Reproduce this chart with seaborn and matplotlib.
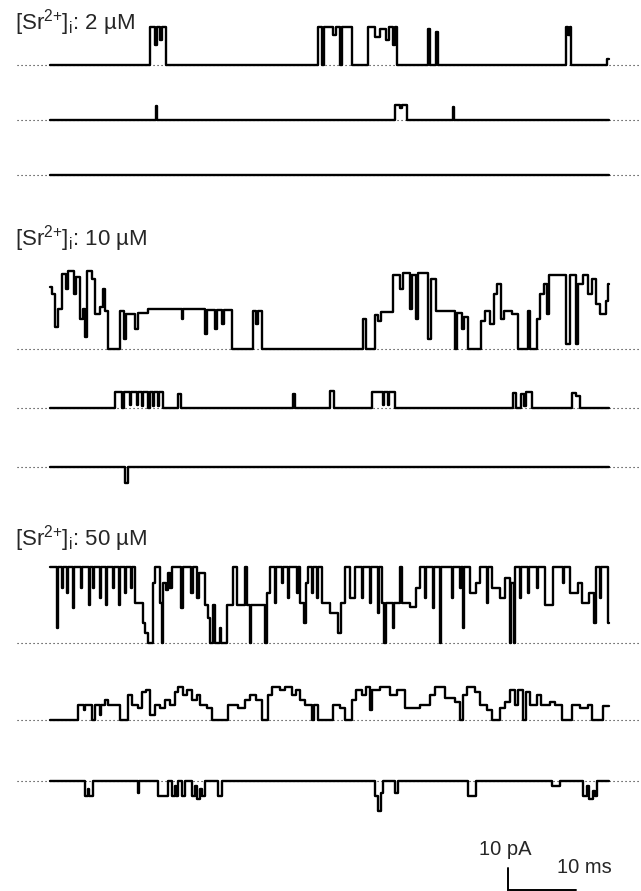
import numpy as np
import pandas as pd
import matplotlib
matplotlib.use("Agg")
import matplotlib.pyplot as plt
import seaborn as sns

# --- single-channel traces: step breakpoints (ms) and current (pA) ---
# 2 uM Sr2+
t_2a = [0, 14.7, 15.4, 15.7, 16.2, 16.5, 17.1, 39.4, 40.0, 40.3, 41.6, 42.1, 42.6, 42.9,
        44.4, 46.8, 47.8, 48.5, 49.4, 49.9, 50.4, 50.7, 51.0, 55.6, 55.9, 56.8, 57.1,
        75.9, 76.2, 76.5, 76.6, 81.9, 82.2]
i_2a = [0, 17.3, 9.1, 17.3, 11.4, 17.3, 0, 17.3, 0, 17.3, 13.6, 17.3, 0, 17.3,
        0, 17.3, 12.7, 16.4, 11.4, 17.3, 9.1, 17.3, 0, 16.4, 0, 15.0, 0,
        17.3, 13.6, 17.3, 0, 2.7, 2.7]
t_2b = [0, 15.6, 15.7, 50.7, 51.5, 51.8, 52.5, 59.3, 59.4, 82.2]
i_2b = [0, 6.4, 0, 6.8, 5.5, 6.8, 0, 5.9, 0, 0]
t_2c = [0, 82.2]
i_2c = [0, 0]

# 10 uM Sr2+
t_10a = [0, 0.3, 0.7, 1.2, 1.8, 2.4, 2.6, 3.5, 3.8, 4.4, 4.9, 5.1, 5.4, 6.2, 6.6, 7.4,
         7.8, 8.1, 8.5, 10.3, 10.9, 11.2, 12.5, 12.9, 14.4, 19.4, 19.6, 22.8, 23.1,
         24.3, 24.6, 25.3, 25.6, 26.8, 29.9, 30.3, 30.6, 31.2, 46.0, 46.5, 47.8, 48.2,
         48.7, 50.4, 51.5, 51.9, 52.9, 53.2, 53.8, 54.1, 55.6, 56.0, 56.8, 59.6, 59.8,
         60.6, 60.9, 61.5, 63.4, 64.0, 64.7, 65.3, 65.7, 66.3, 66.8, 68.0, 68.8, 70.3,
         70.6, 71.6, 72.1, 72.6, 73.1, 73.4, 75.9, 76.5, 77.4, 77.6, 78.4, 79.1, 79.7,
         80.3, 80.9, 81.8, 82.1, 82.2]
i_10a = [28.2, 25.0, 10.0, 18.2, 34.1, 27.3, 35.5, 25.0, 32.7, 13.6, 18.2, 5.5, 35.5, 31.8, 15.9, 19.1,
         27.3, 17.3, 0, 17.3, 4.5, 15.9, 9.1, 16.4, 18.2, 13.6, 18.2, 6.8, 17.7,
         9.1, 17.7, 11.4, 17.7, 0, 17.3, 11.4, 17.3, 0, 13.6, 0, 15.5, 12.7,
         16.8, 33.6, 27.3, 34.5, 18.2, 33.6, 13.6, 34.5, 4.5, 31.8, 17.3, 0, 16.4,
         9.1, 14.5, 0, 12.7, 17.3, 11.4, 25.0, 29.5, 13.6, 17.3, 15.9, 0, 17.3,
         0, 13.6, 25.0, 29.5, 15.9, 33.6, 2.3, 33.6, 2.3, 29.5, 33.6, 25.0, 31.8,
         20.5, 15.9, 21.8, 29.5, 29.5]
t_10b = [0, 9.6, 10.6, 10.9, 11.8, 11.9, 12.8, 12.9, 13.5, 13.7, 14.4, 14.7, 15.1, 15.3,
         15.9, 16.0, 16.6, 18.8, 19.3, 35.7, 36.0, 41.2, 41.8, 47.4, 49.0, 49.1, 49.7,
         49.9, 50.7, 68.1, 68.5, 69.3, 69.7, 70.0, 70.9, 76.8, 77.4, 77.9, 82.2]
i_10b = [0, 7.3, 0, 7.3, 1.4, 7.3, 1.4, 7.3, 0.9, 7.3, 0, 7.3, 0.9, 7.3,
         0.9, 7.3, 0, 6.4, 0, 6.4, 0, 7.7, 0, 7.3, 1.4, 7.3, 1.4,
         7.3, 0, 6.8, 0, 6.4, 0.9, 7.3, 0, 6.8, 5.5, 0, 0]
t_10c = [0, 11.0, 11.5, 82.2]
i_10c = [0, -7.3, 0, 0]

# 50 uM Sr2+
t_50a = [0, 1.0, 1.2, 1.8, 1.9, 2.5, 2.6, 3.4, 3.5, 4.6, 4.7, 5.7, 5.9, 6.3, 6.5, 7.4,
         7.5, 8.2, 8.4, 9.3, 9.4, 10.1, 10.3, 11.0, 11.2, 11.9, 12.1, 12.5, 13.7, 14.0,
         14.4, 15.1, 15.4, 16.2, 16.5, 16.6, 17.1, 17.4, 17.6, 17.9, 19.3, 19.6, 20.7,
         21.0, 21.6, 21.9, 22.8, 23.2, 23.5, 24.0, 24.3, 25.0, 25.1, 26.0, 26.9, 27.5,
         28.7, 29.0, 29.4, 29.6, 31.6, 31.9, 32.4, 33.1, 33.2, 34.1, 34.3, 35.0, 35.1,
         36.3, 36.5, 36.8, 37.4, 37.6, 37.9, 38.5, 38.7, 39.3, 39.4, 40.0, 41.2, 42.4,
         42.8, 43.4, 44.1, 44.9, 45.9, 46.0, 47.1, 47.2, 48.2, 48.4, 48.8, 49.1, 49.4,
         50.4, 50.6, 51.5, 51.8, 52.9, 53.8, 54.4, 55.1, 55.3, 56.3, 56.5, 57.4, 57.5,
         59.1, 59.3, 60.3, 60.4, 60.7, 60.9, 61.8, 62.6, 63.2, 64.3, 64.4, 65.0, 66.2,
         66.9, 67.6, 67.8, 68.2, 68.4, 69.1, 69.3, 70.3, 70.4, 71.6, 71.8, 72.8, 73.9,
         75.4, 75.6, 76.5, 77.6, 78.2, 79.3, 80.0, 80.3, 80.9, 81.0, 82.1, 82.2]
i_50a = [34.5, 6.8, 34.5, 25.0, 34.5, 22.7, 34.5, 15.9, 34.5, 25.0, 34.5, 17.3, 34.5, 25.0, 34.5, 20.5,
         34.5, 17.3, 34.5, 25.0, 34.5, 17.3, 34.5, 22.7, 34.5, 25.0, 34.5, 18.2, 9.1, 4.5,
         0, 27.3, 34.5, 18.2, 0, 27.3, 24.0, 31.8, 25.0, 34.5, 15.9, 34.5, 22.7,
         34.5, 20.5, 31.8, 17.3, 11.4, 0, 17.3, 0, 6.8, 0, 17.3, 34.5, 17.3,
         34.5, 17.3, 0, 17.3, 0, 22.7, 34.5, 18.2, 34.5, 27.3, 34.5, 20.5, 34.5,
         22.7, 34.5, 18.2, 9.1, 27.3, 34.5, 22.7, 34.5, 20.5, 34.5, 18.2, 13.6, 4.5,
         18.2, 34.5, 20.5, 34.5, 20.5, 34.5, 18.2, 34.5, 13.6, 34.5, 18.2, 0, 18.2,
         6.8, 18.2, 34.5, 18.2, 16.4, 25.0, 34.5, 20.5, 34.5, 15.9, 34.5, 0, 34.5,
         20.5, 34.5, 25.0, 34.5, 6.8, 34.5, 22.7, 27.3, 34.5, 18.2, 34.5, 25.0, 20.5,
         29.5, 0, 27.3, 0, 34.5, 20.5, 34.5, 22.7, 34.5, 25.0, 34.5, 17.3, 34.5,
         27.3, 34.5, 22.7, 27.3, 18.2, 22.7, 9.1, 34.5, 20.5, 34.5, 9.1, 9.1]
t_50b = [0, 4.1, 5.0, 5.1, 6.2, 6.6, 7.4, 7.5, 8.1, 8.5, 10.3, 11.5, 12.1, 12.9, 13.5, 14.1,
         14.7, 15.4, 16.2, 16.9, 17.6, 18.4, 18.8, 19.6, 20.1, 20.9, 21.6, 22.1, 23.1,
         23.8, 26.2, 27.6, 28.7, 29.4, 30.3, 31.2, 32.1, 32.6, 33.8, 34.6, 35.6, 36.2,
         36.8, 37.5, 38.5, 38.8, 39.4, 41.6, 42.6, 43.4, 44.4, 45.0, 45.9, 46.5, 47.1,
         47.4, 48.5, 50.0, 51.0, 52.2, 54.4, 55.9, 56.6, 58.1, 59.6, 60.3, 60.7, 61.3,
         62.5, 63.2, 64.3, 65.0, 66.2, 66.9, 67.6, 68.4, 68.8, 69.6, 70.0, 70.6, 71.6,
         72.2, 73.5, 74.3, 75.3, 76.8, 77.9, 79.1, 79.7, 81.3, 82.2]
i_50b = [0, 6.8, 4.5, 6.8, 0, 6.8, 2.3, 6.8, 9.1, 6.8, 0, 11.4, 6.8, 5.5, 12.7, 13.6,
         2.3, 6.8, 5.5, 9.1, 6.8, 12.7, 15.0, 11.4, 13.6, 9.1, 11.4, 6.8, 5.5,
         0, 6.8, 5.5, 9.1, 11.4, 9.1, 0, 11.4, 15.0, 13.6, 15.0, 11.4, 13.6,
         9.1, 6.8, 0, 6.8, 0, 6.8, 5.5, 0, 9.1, 13.6, 11.4, 15.0, 4.5,
         13.6, 15.0, 11.4, 13.6, 5.5, 6.8, 11.4, 15.0, 10.0, 8.2, 0, 11.4, 15.0,
         12.7, 6.8, 4.5, 0, 5.5, 8.2, 13.6, 6.8, 13.6, 0, 12.7, 6.8, 11.4,
         6.8, 8.2, 6.8, 0, 6.8, 5.5, 6.8, 0, 6.4, 6.4]
t_50c = [0, 5.1, 5.6, 5.7, 6.3, 12.9, 13.1, 15.9, 17.4, 17.9, 18.4, 18.5, 18.8, 19.4, 19.9,
         20.9, 21.3, 21.6, 22.1, 22.4, 22.8, 24.7, 25.3, 47.8, 48.2, 48.7, 49.0, 50.7,
         51.2, 61.5, 62.6, 73.8, 75.0, 78.4, 79.0, 79.3, 79.9, 80.1, 80.4, 82.2]
i_50c = [0, -6.8, -3.6, -6.8, 0, -5.5, 0, -6.8, 0, -6.8, -2.3, -6.8, 0, -6.8, 0,
         -6.8, -2.3, -8.2, -3.6, -6.8, 0, -6.8, 0, -6.8, -13.6, -5.5, 0, -5.5,
         0, -6.8, 0, -2.3, 0, -6.8, -2.3, -8.2, -4.5, -6.8, 0, 0]

trace_names = ["2a", "2b", "2c", "10a", "10b", "10c", "50a", "50b", "50c"]
trace_t = [t_2a, t_2b, t_2c, t_10a, t_10b, t_10c, t_50a, t_50b, t_50c]
trace_i = [i_2a, i_2b, i_2c, i_10a, i_10b, i_10c, i_50a, i_50b, i_50c]

conc_labels = ["2 µM", "10 µM", "50 µM"]
scalebar_ms = 10
scalebar_pA = 10

# --- layout (pixels of the 641x891 canvas) ---
W, H = 641, 891
px_per_ms = 6.8
px_per_pA = 2.2
x0_px = 50                          # trace start
baseline_px = [65, 120, 175, 349, 408, 467, 643, 720, 781]
label_base_px = [29, 246, 545]

offsets = -np.array(baseline_px) / px_per_pA

df = pd.concat([
    pd.DataFrame({"trace": n, "t": t, "i": np.array(i) + off})
    for n, t, i, off in zip(trace_names, trace_t, trace_i, offsets)
])

sns.set_style("white")
plt.rcParams["font.family"] = ["Liberation Sans", "DejaVu Sans"]
plt.rcParams["mathtext.fontset"] = "custom"
plt.rcParams["mathtext.rm"] = "Liberation Sans"

fig = plt.figure(figsize=(W / 100, H / 100), dpi=100)
ax = fig.add_axes([0, 0, 1, 1])
ax.set_xlim(-x0_px / px_per_ms, (W - x0_px) / px_per_ms)
ax.set_ylim(-H / px_per_pA, 0)
ax.axis("off")


def px_x(x):
    return (x - x0_px) / px_per_ms


def px_y(y):
    return -y / px_per_pA


# dotted zero-current lines
for off in offsets:
    ax.plot([px_x(17), px_x(W)], [off, off],
            color="#222222", lw=0.8, ls=(0, (1, 2.6)), zorder=1)

for n in trace_names:
    sub = df[df["trace"] == n]
    sns.lineplot(data=sub, x="t", y="i", ax=ax, color="black", lw=1.7,
                 estimator=None, sort=False, drawstyle="steps-post", zorder=2)

for lab, yb in zip(conc_labels, label_base_px):
    ax.text(px_x(15), px_y(yb), r"[Sr$^{2{+}}$]$_{\rm i}$: " + lab,
            fontsize=16, va="baseline", ha="left")

# scale bar
sb_x = px_x(508)
sb_y = px_y(890)
ax.plot([sb_x, sb_x, sb_x + scalebar_ms], [sb_y + scalebar_pA, sb_y, sb_y],
        color="black", lw=1.4, solid_joinstyle="miter")
ax.text(px_x(505), px_y(855), f"{scalebar_pA} pA", fontsize=14.5,
        ha="center", va="baseline")
ax.text(px_x(557), px_y(873), f"{scalebar_ms} ms", fontsize=14.5,
        ha="left", va="baseline")

ax.set_xlabel("")
ax.set_ylabel("")
fig.savefig("out.png", dpi=100)
